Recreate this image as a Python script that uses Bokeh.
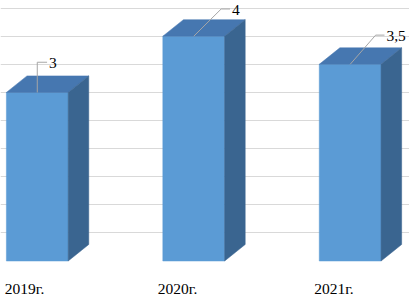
from bokeh.plotting import figure
from bokeh.models import Grid, FixedTicker, Range1d
from bokeh.embed import file_html
from bokeh.resources import INLINE
from bokeh.core.properties import value

# ---- data ----
categories = ["2019г.", "2020г.", "2021г."]
values = [3, 4, 3.5]
grid_values = [0.5, 1.0, 1.5, 2.0, 2.5, 3.0, 3.5, 4.0, 4.5]

# ---- layout / style (reference-pixel based) ----
PX_X = 159.5      # px per category step
PX_Y = 57.7       # px per value unit
REF_W, REF_H = 417, 307
FIRST_CENTER = 37.5
FLOOR = 267.5

half_w = 31.5 / PX_X
dx = 21 / PX_X
dy = 17 / PX_Y
label_dx = [-13 / PX_X, -16.5 / PX_X, -16.5 / PX_X]
label_y = (FLOOR - 296) / PX_Y

# data-label leader elbows (px offsets) and horizontal lengths
elbow_dx_px = [0, 28, 26]
elbow_dy_px = [31, 28, 30]
hline_px = [10, 9, 9]

FRONT = "#5B9BD5"
TOP = "#4677B0"
SIDE = "#3A6590"
FONT = value("'Liberation Serif', 'Times New Roman', serif")

xs = list(range(len(values)))

p = figure(width=409, height=299, output_backend="svg", toolbar_location=None,
           x_axis_type=None, y_axis_type=None, min_border=0,
           x_range=Range1d(-FIRST_CENTER / PX_X, (REF_W - FIRST_CENTER) / PX_X),
           y_range=Range1d((FLOOR - REF_H) / PX_Y, FLOOR / PX_Y))
p.outline_line_color = None
p.background_fill_color = "white"
p.border_fill_color = "white"

p.add_layout(Grid(dimension=1, ticker=FixedTicker(ticks=grid_values),
                  grid_line_color="#D9D9D9", grid_line_width=1))

# front faces
p.quad(left=[x - half_w for x in xs], right=[x + half_w for x in xs],
       bottom=[0] * len(xs), top=values,
       fill_color=FRONT, line_color=FRONT, line_width=0.5)

# top faces
top_xs = [[x - half_w, x + half_w, x + half_w + dx, x - half_w + dx] for x in xs]
top_ys = [[v, v, v + dy, v + dy] for v in values]
p.patches(top_xs, top_ys, fill_color=TOP, line_color=TOP, line_width=0.5)

# side faces
side_xs = [[x + half_w, x + half_w + dx, x + half_w + dx, x + half_w] for x in xs]
side_ys = [[0, dy, v + dy, v] for v in values]
p.patches(side_xs, side_ys, fill_color=SIDE, line_color=SIDE, line_width=0.5)

# leader lines
lead_xs, lead_ys, lab_x, lab_y, lab_t = [], [], [], [], []
for x, v, ex, ey, hl in zip(xs, values, elbow_dx_px, elbow_dy_px, hline_px):
    ex_d = ex / PX_X
    ey_d = ey / PX_Y
    hl_d = hl / PX_X
    lead_xs.append([x, x + ex_d, x + ex_d + hl_d])
    lead_ys.append([v, v + ey_d, v + ey_d])
    lab_x.append(x + ex_d + hl_d + 2 / PX_X)
    lab_y.append(v + ey_d - 1 / PX_Y)
    lab_t.append(f"{v:g}".replace(".", ","))
p.multi_line(lead_xs, lead_ys, line_color="#A6A6A6", line_width=1)
p.text(x=lab_x, y=lab_y, text=lab_t, text_align="left", text_baseline="middle",
       text_font=FONT, text_font_size="15.5px", text_color="#000000")

# category labels
p.text(x=[x + d for x, d in zip(xs, label_dx)], y=[label_y] * len(xs), text=categories,
       text_align="center", text_baseline="alphabetic",
       text_font=FONT, text_font_size="15.5px", text_color="#000000")

open("out.html", "w").write(file_html(p, INLINE))
